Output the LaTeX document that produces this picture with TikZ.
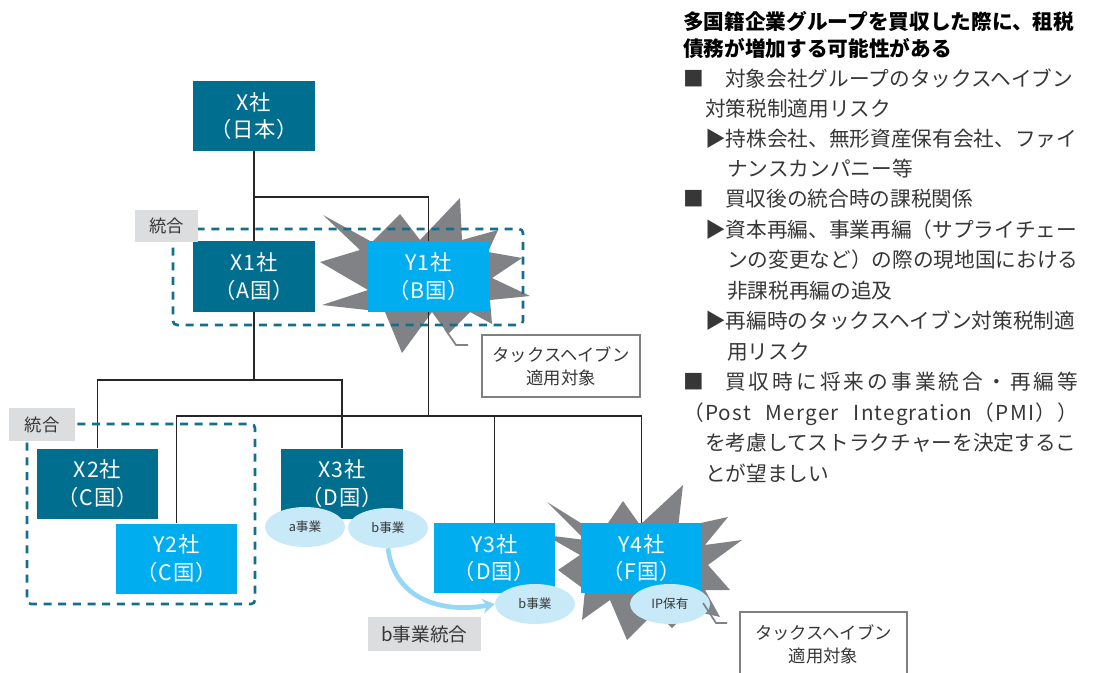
\documentclass[tikz,border=0pt]{standalone}
\usepackage{fontspec}
\setmainfont{Noto Sans CJK JP}
\usetikzlibrary{arrows.meta,shapes.geometric,calc}
\definecolor{dteal}{RGB}{0,110,143}
\definecolor{lblue}{RGB}{0,174,239}
\definecolor{pale}{RGB}{200,233,248}
\definecolor{stargray}{RGB}{128,130,133}
\definecolor{lblgray}{RGB}{220,221,222}
\definecolor{dashteal}{RGB}{20,110,140}
\definecolor{txt}{RGB}{55,55,55}
\definecolor{arrowblue}{RGB}{150,215,245}
\begin{document}
\begin{tikzpicture}[x=0.75pt,y=-0.75pt,
  company/.style={draw=none,minimum width=91pt,minimum height=52.5pt,inner sep=0pt,align=center,text=white,font=\fontsize{16}{20.5}\selectfont\addfontfeatures{LetterSpace=4}},
  xco/.style={company,fill=dteal},
  yco/.style={company,fill=lblue},
  biz/.style={ellipse,fill=pale,minimum width=60pt,minimum height=30pt,inner sep=0pt,font=\fontsize{9.5}{11}\selectfont,text=txt},
  tag/.style={fill=lblgray,inner sep=0pt,text=txt,font=\fontsize{13}{15}\selectfont},
  callout/.style={align=center,text=txt,font=\fontsize{13}{17}\selectfont,inner sep=0pt},
  calloutbox/.style={draw=black!50,line width=1.5pt,fill=white},
  conn/.style={line width=1.1pt,draw=black!85},
  grp/.style={draw=dashteal,line width=2pt,dash pattern=on 6pt off 5pt,rounded corners=3pt},
  lead/.style={draw=stargray,line width=1.3pt},
  starfill/.style={fill=stargray},
  rt/.style={anchor=west,inner sep=0pt,text=txt,font=\fontsize{15.5}{18}\selectfont,text height=13pt,text depth=2pt},
  rtitle/.style={rt,text=black,font=\fontsize{15.5}{18}\selectfont\bfseries},
]
\useasboundingbox (0,0) rectangle (1094,673);

% starbursts
\path[starfill] (323,215) -- (372,242) -- (400,214) -- (420,240) -- (460,198) -- (462,240) -- (498,230) -- (488,252) -- (522,258) -- (492,278) -- (530,296) -- (490,300) -- (492,324) -- (470,312) -- (448,334) -- (432,312) -- (402,353) -- (385,312) -- (322,305) -- (368,290) -- (320,262) -- (360,250) -- cycle;
\path[starfill] (547,502) -- (600,535) -- (623,501) -- (640,525) -- (683,485) -- (678,528) -- (728,517) -- (705,545) -- (742,540) -- (708,565) -- (730,590) -- (705,590) -- (720,617) -- (690,610) -- (672,628) -- (655,612) -- (627,640) -- (610,600) -- (582,620) -- (585,590) -- (558,570) -- (580,555) -- (545,535) -- (585,540) -- cycle;

% company nodes
\node[xco] (X)  at (254,116)   {X社\\（日本）};
\node[xco] (X1) at (254,276.5) {X1社\\（A国）};
\node[yco] (Y1) at (428.5,276.5) {Y1社\\（B国）};
\node[xco] (X2) at (97.5,483.5) {X2社\\（C国）};
\node[yco] (Y2) at (176.5,558.5) {Y2社\\（C国）};
\node[xco] (X3) at (342,483.5) {X3社\\（D国）};
\node[yco] (Y3) at (494.5,558) {Y3社\\（D国）};
\node[yco] (Y4) at (641.5,558) {Y4社\\（F国）};

% connectors
\coordinate (h0) at (254,197);
\coordinate (h1) at (254,380);
\coordinate (h2) at (428.5,416);
\draw[conn] (X.south) -- (X1.north);
\draw[conn] (h0) -| (Y1.north);
\draw[conn] (X1.south) -- (h1);
\draw[conn] (X2.north) |- (h1) -| (X3.north);
\draw[conn] (Y1.south) -- (h2);
\draw[conn] (Y2.north) |- (h2) -| (Y4.north);
\draw[conn] (Y3.north) -- (Y3.north |- h2);

% groups
\draw[grp] (173,229) rectangle (523,325);
\draw[grp] (27,424) rectangle (255,604);

% redraw boxes over the lines
\node[xco] at (X)  {X社\\（日本）};
\node[xco] at (X1) {X1社\\（A国）};
\node[yco] at (Y1) {Y1社\\（B国）};
\node[xco] at (X2) {X2社\\（C国）};
\node[yco] at (Y2) {Y2社\\（C国）};
\node[xco] at (X3) {X3社\\（D国）};
\node[yco] at (Y3) {Y3社\\（D国）};
\node[yco] at (Y4) {Y4社\\（F国）};

% business ellipses
\node[biz] (ab) at (305,527) {a事業};
\node[biz] (bb) at (388,528) {b事業};
\node[biz] (yb) at (535,604) {b事業};
\node[biz] (ip) at (670,604) {IP保有};

\draw[draw=arrowblue,line width=3.5pt,-{Stealth[length=9pt,width=11pt]}] (bb.south) .. controls (394,598) and (440,614) .. (yb.west);

% tags
\node[tag,minimum width=47pt,minimum height=24pt] (t1) at (166.5,226) {統合};
\node[tag,minimum width=49.5pt,minimum height=25pt] (t2) at (42,424.5) {統合};
\node[tag,minimum width=85pt,minimum height=25.5pt,font=\fontsize{14}{16}\selectfont] (t3) at (424.5,634) {b事業統合};

% callouts
\draw[calloutbox] (482,335) rectangle (640,397);
\node[callout] (c1) at (561,366) {タックスヘイブン\\適用対象};
\coordinate (l1a) at (445,329);
\coordinate (l1b) at (456,345);
\coordinate (l1c) at (468,345);
\draw[lead] (l1a) -- (l1b) -- (l1c);

\draw[calloutbox] (740,680) -- (740,612) -- (907,612) -- (907,680);
\node[callout] (c2) at (823.5,644.5) {タックスヘイブン\\適用対象};
\coordinate (l2a) at (703,603);
\coordinate (l2b) at (716,623);
\coordinate (l2c) at (727,623);
\draw[lead] (l2a) -- (l2b) -- (l2c);

% right text
\node[rtitle] (r1) at (683,22) {多国籍企業グループを買収した際に、租税};
\node[rtitle] (r2) at (683,49) {債務が増加する可能性がある};
\node[rt] (r3) at (683,79) {\makebox[31.5pt][l]{■}対象会社グループのタックスヘイブン};
\node[rt] (r4) at (705,109) {対策税制適用リスク};
\node[rt] (r5) at (705,139) {▶持株会社、無形資産保有会社、ファイ};
\node[rt] (r6) at (727,169) {ナンスカンパニー等};
\node[rt] (r7) at (683,199.5) {\makebox[31.5pt][l]{■}買収後の統合時の課税関係};
\node[rt] (r8) at (705,230) {▶資本再編、事業再編（サプライチェー};
\node[rt] (r9) at (727,260.5) {ンの変更など）の際の現地国における};
\node[rt] (r10) at (727,291) {非課税再編の追及};
\node[rt] (r11) at (705,321.5) {▶再編時のタックスヘイブン対策税制適};
\node[rt] (r12) at (727,352) {用リスク};
\node[rt] (r13) at (683,382.5) {\makebox[31.5pt][l]{■}\makebox[264.75pt][s]{買\hfil 収\hfil 時\hfil に\hfil 将\hfil 来\hfil の\hfil 事\hfil 業\hfil 統\hfil 合\hfil ・\hfil 再\hfil 編\hfil 等}};
\node[rt] (r14) at (683,413) {\makebox[296pt][s]{\addfontfeatures{LetterSpace=6}（Post Merger Integration（PMI））}};
\node[rt] (r15) at (705,443.5) {を考慮してストラクチャーを決定するこ};
\node[rt] (r16) at (705,474) {とが望ましい};
\end{tikzpicture}
\end{document}
